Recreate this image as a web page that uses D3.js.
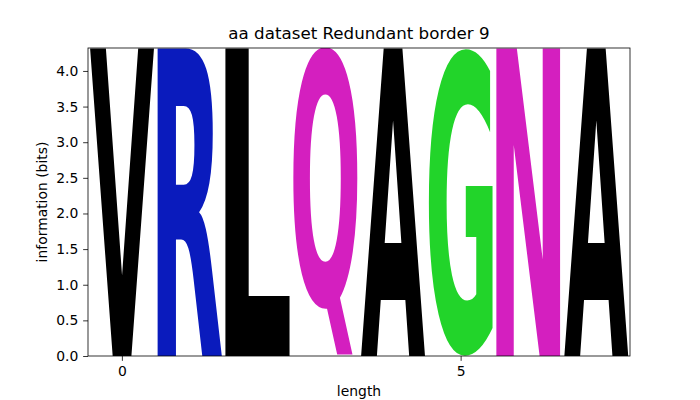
<!DOCTYPE html>
<html>
<head>
<meta charset="utf-8">
<script src="https://cdn.jsdelivr.net/npm/d3@7"></script>
<style>
  body { margin: 0; background: #fff; }
  svg { display: block; }
  text { font-family: "DejaVu Sans", sans-serif; }
</style>
</head>
<body>
<svg id="chart" width="700" height="400"></svg>
<script>
// ---- data ----
const positions = [0, 1, 2, 3, 4, 5, 6, 7];
const letters = ["V", "R", "L", "Q", "A", "G", "N", "A"];
const heights = [4.3219, 4.3219, 4.3219, 4.3219, 4.3219, 4.3219, 4.3219, 4.3219];
const letterColors = {
  V: "#000000", L: "#000000", A: "#000000",
  R: "#0a1bbd", Q: "#d41fbf", N: "#d41fbf", G: "#22d42a"
};
const yTicks = [0, 0.5, 1, 1.5, 2, 2.5, 3, 3.5, 4];
const xTicks = [0, 5];
const titleText = "aa dataset Redundant border 9";
const xLabel = "length";
const yLabel = "information (bits)";

// ---- layout ----
const margin = { left: 88, right: 70, top: 48, bottom: 44 };
const W = 700, H = 400;
const svg = d3.select("#chart");

const x = d3.scaleLinear().domain([-0.5, 7.5]).range([margin.left, W - margin.right]);
const y = d3.scaleLinear().domain([0, Math.log2(20)]).range([H - margin.bottom, margin.top]);

svg.append("defs").append("clipPath").attr("id", "plotclip")
  .append("rect")
  .attr("x", x.range()[0]).attr("y", y.range()[1])
  .attr("width", x.range()[1] - x.range()[0])
  .attr("height", y.range()[0] - y.range()[1]);

// measure ink bounds via canvas
const FS = 200;
const ctx = document.createElement("canvas").getContext("2d");
ctx.font = `bold ${FS}px "DejaVu Sans"`;
function ink(ch) {
  const m = ctx.measureText(ch);
  return { L: m.actualBoundingBoxLeft, R: m.actualBoundingBoxRight, A: m.actualBoundingBoxAscent, D: m.actualBoundingBoxDescent };
}

const glyphW = 0.95;
const g = svg.append("g").attr("clip-path", "url(#plotclip)");
positions.forEach((p, i) => {
  const ch = letters[i];
  const b = ink(ch);
  const x0 = x(p - glyphW / 2), x1 = x(p + glyphW / 2);
  const yT = y(heights[i]), yB = y(0);
  const sx = (x1 - x0) / (b.L + b.R);
  const sy = (yB - yT) / (b.A + b.D);
  g.append("text")
    .attr("x", 0).attr("y", 0)
    .attr("font-size", FS)
    .attr("font-weight", "bold")
    .attr("fill", letterColors[ch])
    .attr("transform", `translate(${x0 + b.L * sx},${yT + b.A * sy}) scale(${sx},${sy})`)
    .text(ch);
});

// axes
const tk = 4.86;
const xAxis = d3.axisBottom(x).tickValues(xTicks).tickFormat(d3.format("d")).tickSize(tk).tickPadding(tk);
const yAxis = d3.axisLeft(y).tickValues(yTicks).tickFormat(d3.format(".1f")).tickSize(tk).tickPadding(tk);

const gx = svg.append("g").attr("transform", `translate(0,${y(0)})`).call(xAxis);
const gy = svg.append("g").attr("transform", `translate(${x.range()[0]},0)`).call(yAxis);
[gx, gy].forEach(a => {
  a.select(".domain").remove();
  a.selectAll("text").attr("font-size", 13.9).attr("font-family", "DejaVu Sans").attr("fill", "#000");
  a.selectAll("line").attr("stroke", "#000").attr("stroke-width", 0.8);
});

// frame
svg.append("rect")
  .attr("x", x.range()[0]).attr("y", y.range()[1])
  .attr("width", x.range()[1] - x.range()[0])
  .attr("height", y.range()[0] - y.range()[1])
  .attr("fill", "none").attr("stroke", "#000").attr("stroke-width", 0.8);

// labels
svg.append("text").attr("x", (x.range()[0] + x.range()[1]) / 2).attr("y", 39)
  .attr("text-anchor", "middle").attr("font-size", 16.7).text(titleText);
svg.append("text").attr("x", (x.range()[0] + x.range()[1]) / 2).attr("y", 396)
  .attr("text-anchor", "middle").attr("font-size", 13.9).text(xLabel);
svg.append("text")
  .attr("transform", `translate(47,${(y.range()[0] + y.range()[1]) / 2}) rotate(-90)`)
  .attr("text-anchor", "middle").attr("font-size", 13.9).text(yLabel);
</script>
</body>
</html>
